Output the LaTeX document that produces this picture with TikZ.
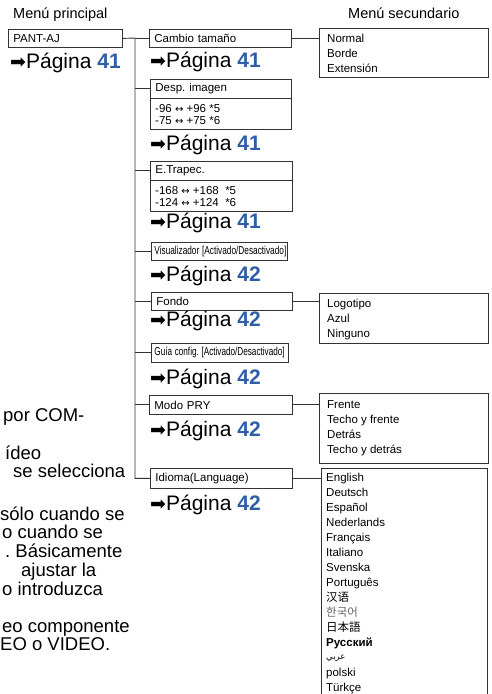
\documentclass[tikz,border=0pt]{standalone}
\usepackage{fontspec}
\setmainfont{Liberation Sans}
\newfontfamily\dejavu{DejaVu Sans}
\newfontfamily\cjksc{Noto Sans CJK SC}
\newfontfamily\cjkkr{Noto Sans CJK KR}
\newfontfamily\cjkjp{Noto Sans CJK JP}
\newfontfamily\arabicfont[Script=Arabic]{DejaVu Sans}
\TeXXeTstate=1
\frenchspacing
\definecolor{pblue}{HTML}{2F5DA8}
\definecolor{lnc}{HTML}{333333}
\newcommand\fsz[1]{\fontsize{#1}{#1}\selectfont}
\newcommand\pgref[1]{{\dejavu\fontsize{19}{19}\selectfont ➡}Página {\bfseries\color{pblue}#1}}
\newcommand\lr{{\dejavu\fontsize{10}{10}\selectfont ↔}}
\begin{document}
\frenchspacing
\begin{tikzpicture}[x=1pt,y=-1pt,
  ln/.style={line width=0.9pt, draw=lnc},
  bx/.style={draw=lnc, line width=0.8pt, anchor=north west, inner xsep=5pt, inner ysep=0pt, align=left, font=\fsz{11.5}},
  hd/.style={anchor=base west, inner sep=0pt, font=\fsz{14.5}},
  pg/.style={anchor=base west, inner sep=0pt, font=\fsz{21}},
  lt/.style={anchor=base west, inner sep=0pt, font=\fsz{11.5}},
  sm/.style={anchor=base west, inner sep=0pt, font=\fsz{11.5}},
  para/.style={anchor=base west, inner sep=0pt, font=\fsz{18.5}}]
\useasboundingbox (0,0) rectangle (492,694);
\clip (0,0) rectangle (492,694);
\fill[white] (0,0) rectangle (492,694);

% headers
\node[hd] (mp) at (13,18) {Menú principal};
\node[hd] (ms) at (348,18) {Menú secundario};

% main menu
\node[bx, minimum height=18pt, text width=104pt] (pant) at (8,29) {PANT-AJ};
\node[pg] (pg0) at (10,68) {\pgref{41}};

% second column
\node[bx, minimum height=18pt, text width=132pt] (cam) at (149,29) {Cambio tamaño};
\node[pg] (pg1) at (150,67) {\pgref{41}};

\node[bx, minimum height=19pt, text width=131pt] (desph) at (150,79) {Desp. imagen};
\node[bx, minimum height=31pt, text width=131pt] (despb) at (150,98) {};
\node[sm] (d1) at (155,112) {-96 \lr\ +96 *5};
\node[sm] (d2) at (155,124) {-75 \lr\ +75 *6};
\node[pg] (pg2) at (150,150) {\pgref{41}};

\node[bx, minimum height=19pt, text width=132pt] (trah) at (150,161) {E.Trapec.};
\node[bx, minimum height=31pt, text width=132pt] (trab) at (150,180) {};
\node[sm] (t1) at (155,194) {-168 \lr\ +168 \ *5};
\node[sm] (t2) at (155,206) {-124 \lr\ +124 \ *6};
\node[pg] (pg3) at (150,228) {\pgref{41}};

\node[bx, minimum height=18pt, text width=130pt, inner xsep=3pt] (vis) at (151,242) {\scalebox{0.72}[1]{Visualizador [Activado/Desactivado]}};
\node[pg] (pg4) at (150,281) {\pgref{42}};

\node[bx, minimum height=18pt, text width=131pt] (fon) at (151,292) {Fondo};
\node[pg] (pg5) at (150,326) {\pgref{42}};

\node[bx, minimum height=19pt, text width=131pt, inner xsep=3pt] (gui) at (151,343) {\scalebox{0.71}[1]{Guía config. [Activado/Desactivado]}};
\node[pg] (pg6) at (150,384) {\pgref{42}};

\node[bx, minimum height=19pt, text width=133pt] (mod) at (149,395) {Modo PRY};
\node[pg] (pg7) at (150,436) {\pgref{42}};

\node[bx, minimum height=20pt, text width=132pt] (idi) at (150,468) {Idioma(Language)};
\node[pg] (pg8) at (150,510) {\pgref{42}};

% trunk and branches
\coordinate (tr) at (135,38);
\draw[ln] (pant.east) -- (tr) |- (idi.west);
\foreach \b in {cam,desph,trah,vis,fon,gui,mod}
  \draw[ln] (tr |- \b.west) -- (\b.west);

% sub menus
\node[bx, minimum height=49pt, minimum width=169pt] (nor) at (319,28) {};
\node[lt] (n1) at (327,42) {Normal};
\node[lt] (n2) at (327,57) {Borde};
\node[lt] (n3) at (327,72) {Extensión};
\draw[ln] (cam.east) -- (nor.west |- cam.east);

\node[bx, minimum height=50pt, minimum width=169pt] (logo) at (319,293) {};
\node[lt] (l1) at (327,307) {Logotipo};
\node[lt] (l2) at (327,322) {Azul};
\node[lt] (l3) at (327,337) {Ninguno};
\draw[ln] (fon.east) -- (logo.west |- fon.east);

\node[bx, minimum height=70pt, minimum width=169pt] (fre) at (319,393) {};
\node[lt] (f1) at (327,408) {Frente};
\node[lt] (f2) at (327,423) {Techo y frente};
\node[lt] (f3) at (327,438) {Detrás};
\node[lt] (f4) at (327,453) {Techo y detrás};
\draw[ln] (mod.east) -- (fre.west |- mod.east);

\node[bx, minimum height=240pt, minimum width=166pt] (lang) at (321,468) {};
\draw[ln] (idi.east) -- (lang.west |- idi.east);
\node[lt] (g1) at (326,481) {English};
\node[lt] (g2) at (326,496) {Deutsch};
\node[lt] (g3) at (326,511) {Español};
\node[lt] (g4) at (326,526) {Nederlands};
\node[lt] (g5) at (326,541) {Français};
\node[lt] (g6) at (326,556) {Italiano};
\node[lt] (g7) at (326,571) {Svenska};
\node[lt] (g8) at (326,586) {Português};
\node[lt] (g9) at (326,601) {\cjksc 汉语};
\node[lt, text=black!60] (g10) at (326,616) {\cjkkr 한국어};
\node[lt] (g11) at (326,631) {\cjkjp 日本語};
\node[lt] (g12) at (326,646) {\bfseries Русский};
\node[lt, font=\fsz{8.5}] (g13) at (326,659) {\arabicfont\beginR عربي\endR};
\node[lt] (g14) at (326,676) {polski};
\node[lt] (g15) at (326,691) {Türkçe};

% left paragraph fragments
\node[para] (p1) at (3,421) {por COM-};
\node[para] (p2) at (5,459) {ídeo};
\node[para] (p3) at (13,477) {se selecciona};
\node[para] (p4) at (0,520) {sólo cuando se};
\node[para] (p5) at (2,538) {o cuando se};
\node[para] (p6) at (5,557) {. Básicamente};
\node[para] (p7) at (21,576) {ajustar la};
\node[para] (p8) at (2,595) {o introduzca};
\node[para] (p9) at (2,632) {eo componente};
\node[para] (p10) at (0,650) {EO o VIDEO.};
\end{tikzpicture}
\end{document}
